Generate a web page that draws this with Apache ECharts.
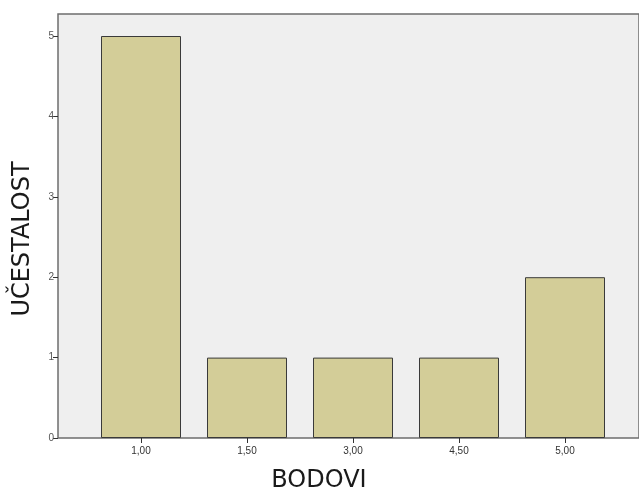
<!DOCTYPE html>
<html>
<head>
<meta charset="utf-8">
<script src="https://cdn.jsdelivr.net/npm/echarts@6/dist/echarts.min.js"></script>
<style>html,body{margin:0;padding:0;background:#fff;}#chart{width:639px;height:493px;}</style>
</head>
<body>
<div id="chart"></div>
<script>
const categories = ['1,00', '1,50', '3,00', '4,50', '5,00'];
const frequencies = [5, 1, 1, 1, 2];
const yTicks = [0, 1, 2, 3, 4, 5];
const xTitle = 'BODOVI';
const yTitle = 'UČESTALOST';

const chart = echarts.init(document.getElementById('chart'), null, {renderer: 'canvas'});
chart.setOption({
  animation: false,
  backgroundColor: '#ffffff',
  grid: [
    {left: 58, right: -3, top: 14, bottom: 55, show: true, backgroundColor: '#efefef', borderColor: '#6e6e6e', borderWidth: 1.5},
    {left: 88, right: 21, top: 36, bottom: 55}
  ],
  xAxis: [
    {gridIndex: 0, type: 'value', show: false, min: 0, max: 1},
    {gridIndex: 1, type: 'category', data: categories,
      axisLine: {show: false},
      axisTick: {show: true, alignWithLabel: true, length: 5, lineStyle: {color: '#333', width: 1}},
      axisLabel: {color: '#333', fontSize: 10, fontFamily: 'Arial, Liberation Sans', margin: 8}
    }
  ],
  yAxis: [
    {gridIndex: 0, type: 'value', show: false, min: 0, max: 1},
    {gridIndex: 1, type: 'value', min: yTicks[0], max: yTicks[yTicks.length - 1], interval: 1, offset: 30,
      axisLine: {show: false},
      axisTick: {show: true, length: 5, lineStyle: {color: '#333', width: 1}},
      axisLabel: {color: '#555', fontSize: 10, fontFamily: 'Arial, Liberation Sans', margin: 4},
      splitLine: {show: false}
    }
  ],
  graphic: [
    {type: 'text', x: 319, y: 481, style: {text: xTitle, font: '24px "DejaVu Sans", sans-serif', fill: '#1a1a1a', align: 'center', verticalAlign: 'middle'}},
    {type: 'text', x: 23, y: 239, rotation: Math.PI / 2, style: {text: yTitle, font: '24px "DejaVu Sans", sans-serif', fill: '#1a1a1a', align: 'center', verticalAlign: 'middle'}}
  ],
  series: [{
    type: 'bar', xAxisIndex: 1, yAxisIndex: 1, data: frequencies, barWidth: 80,
    itemStyle: {color: '#d3cd98', borderColor: '#3a3a3a', borderWidth: 1}
  }]
});
</script>
</body>
</html>
